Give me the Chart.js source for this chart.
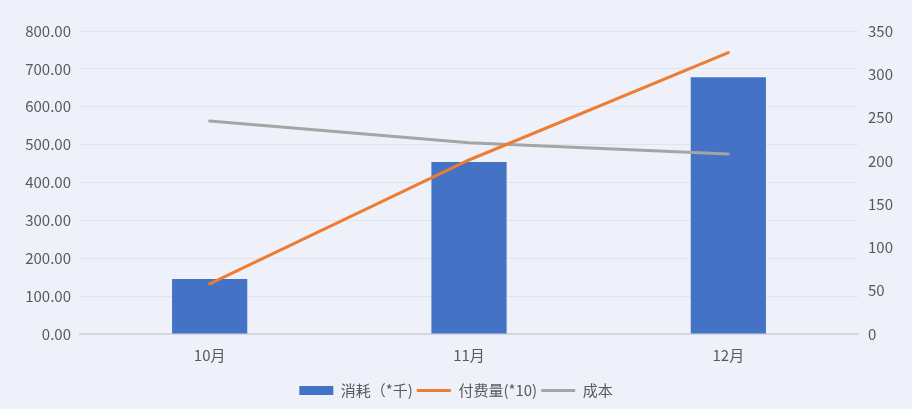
<!DOCTYPE html>
<html>
<head>
<meta charset="utf-8">
<script src="https://cdn.jsdelivr.net/npm/chart.js@4"></script>
<style>
    html, body { margin: 0; padding: 0; background: #EEF1FA; }
    #wrap { width: 912px; height: 409px; }
</style>
</head>
<body>
<div id="wrap"><canvas id="mixChart" width="912" height="409"></canvas></div>
<script>
// Data
const months = ['10月', '11月', '12月'];
const consumption = [145, 454, 678];      // 消耗（*千）, left axis
const payCount = [58, 201, 325];          // 付费量(*10), right axis
const cost = [246, 221, 208];             // 成本, right axis

const leftTicks = [0, 100, 200, 300, 400, 500, 600, 700, 800];
const rightTicks = [0, 50, 100, 150, 200, 250, 300, 350];

const FONT = '"Noto Sans CJK SC", "Noto Sans", sans-serif';
const TEXT_COLOR = '#595959';

function createMixChart() {
    const ctx = document.getElementById('mixChart');
    return new Chart(ctx, {
        type: 'bar',
        data: {
            labels: months,
            datasets: [{
                type: 'bar',
                label: '消耗（*千)',
                data: consumption,
                backgroundColor: '#4472C4',
                yAxisID: 'y',
                barPercentage: 0.29,
                categoryPercentage: 1,
                pointStyle: 'rect',
                order: 2
            }, {
                type: 'line',
                label: '付费量(*10)',
                data: payCount,
                borderColor: '#ED7D31',
                backgroundColor: '#ED7D31',
                borderWidth: 3,
                borderCapStyle: 'round',
                pointRadius: 0,
                tension: 0,
                pointStyle: 'line',
                yAxisID: 'y1',
                order: 0
            }, {
                type: 'line',
                label: '成本',
                data: cost,
                borderColor: '#A5A5A5',
                backgroundColor: '#A5A5A5',
                borderWidth: 3,
                borderCapStyle: 'round',
                pointRadius: 0,
                tension: 0,
                pointStyle: 'line',
                yAxisID: 'y1',
                order: 1
            }]
        },
        options: {
            responsive: false,
            animation: false,
            layout: { padding: { top: 31, left: 0, right: 0, bottom: 1 } },
            plugins: {
                tooltip: { enabled: false },
                legend: {
                    position: 'bottom',
                    labels: {
                        usePointStyle: true,
                        pointStyleWidth: 34,
                        boxHeight: 9,
                        padding: 4,
                        color: TEXT_COLOR,
                        font: { family: FONT, size: 15 },
                        sort: (a, b) => a.datasetIndex - b.datasetIndex
                    }
                }
            },
            scales: {
                x: {
                    grid: { display: false, drawTicks: false },
                    border: { display: true, color: '#D5D7DD', width: 2 },
                    ticks: {
                        padding: 12,
                        color: TEXT_COLOR,
                        font: { family: FONT, size: 15 }
                    },
                    afterFit: (scale) => { scale.height = 45; }
                },
                y: {
                    position: 'left',
                    min: leftTicks[0],
                    max: leftTicks[leftTicks.length - 1],
                    afterBuildTicks: (scale) => {
                        scale.ticks = leftTicks.map(v => ({ value: v }));
                    },
                    grid: { color: '#E1E4EC', lineWidth: 1, drawTicks: false },
                    border: { display: false },
                    ticks: {
                        padding: 9,
                        color: TEXT_COLOR,
                        font: { family: FONT, size: 15 },
                        callback: (v) => Number(v).toFixed(2)
                    },
                    afterFit: (scale) => { scale.width = 80; }
                },
                y1: {
                    position: 'right',
                    min: rightTicks[0],
                    max: rightTicks[rightTicks.length - 1],
                    afterBuildTicks: (scale) => {
                        scale.ticks = rightTicks.map(v => ({ value: v }));
                    },
                    grid: { drawOnChartArea: false, drawTicks: false },
                    border: { display: false },
                    ticks: {
                        padding: 10,
                        color: TEXT_COLOR,
                        font: { family: FONT, size: 15 }
                    },
                    afterFit: (scale) => { scale.width = 54; }
                }
            }
        }
    });
}

document.addEventListener('DOMContentLoaded', createMixChart);
</script>
</body>
</html>
